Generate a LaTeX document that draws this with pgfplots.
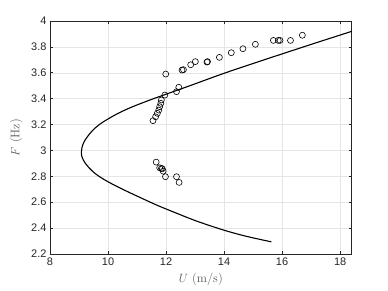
\documentclass[border=0pt]{standalone}
\usepackage{pgfplots}
\pgfplotsset{compat=1.18}
\usepackage{fontspec}
\newfontfamily\ticksf{Liberation Sans}
\definecolor{axgray}{gray}{0.15}
\definecolor{labgray}{gray}{0.35}
\begin{document}
\begin{tikzpicture}[x=1bp,y=1bp]
\begin{axis}[
  scale only axis,
  width=301.7bp, height=233bp,
  xmin=8, xmax=18.4, ymin=2.2, ymax=4,
  xtick={8,10,...,18},
  ytick={2.2,2.4,...,4.01},
  grid=major,
  major grid style={gray!20, line width=0.5bp},
  axis line style={axgray, line width=0.6bp},
  tick style={axgray, line width=0.6bp},
  major tick length=3bp,
  tick align=inside,
  xtick pos=both, ytick pos=both,
  ticklabel style={font=\ticksf\fontsize{11}{13}\selectfont, text=axgray},
  /pgf/number format/assume math mode=true,
  yticklabel style={/pgf/number format/fixed, /pgf/number format/precision=1},
  xlabel={$U$ (m/s)},
  ylabel={$F$ (Hz)},
  label style={font=\fontsize{12.5}{14}\selectfont, text=labgray},
  xlabel style={yshift=-1bp},
  ylabel style={yshift=2bp},
  clip=true,
]
\addplot[black, line width=1.1bp, smooth, tension=0.6] coordinates {
(15.63,2.294) (14.80,2.335) (14.10,2.377) (13.50,2.420) (12.96,2.462)
(12.32,2.519) (11.76,2.570) (11.46,2.600) (11.17,2.630) (10.88,2.660)
(10.56,2.694) (10.28,2.725) (10.00,2.758) (9.76,2.790) (9.55,2.823)
(9.35,2.865) (9.22,2.900) (9.11,2.945) (9.08,2.985) (9.10,3.020)
(9.16,3.060) (9.27,3.100) (9.45,3.150) (9.70,3.200) (10.00,3.243)
(10.38,3.290) (10.85,3.338) (11.45,3.390) (11.92,3.428) (12.82,3.500)
(13.95,3.592) (14.95,3.668) (15.95,3.742) (17.15,3.830) (18.40,3.920)
};
\addplot[only marks, mark=o, mark size=3bp, mark options={line width=0.6bp, black}] coordinates {
(11.55,3.230) (11.64,3.260) (11.70,3.287) (11.75,3.312) (11.78,3.338)
(11.82,3.364) (11.84,3.390) (11.96,3.428) (12.36,3.454) (12.44,3.488)
(11.99,3.590) (12.55,3.621) (12.60,3.624) (12.85,3.662) (13.01,3.686)
(13.41,3.683) (13.43,3.686) (13.84,3.719) (14.25,3.755) (14.65,3.786)
(15.08,3.820) (15.70,3.850) (15.87,3.850) (15.93,3.850) (16.29,3.850)
(16.70,3.890)
(11.66,2.910) (11.78,2.866) (11.84,2.862) (11.87,2.858) (11.90,2.840)
(11.98,2.797) (12.36,2.797) (12.45,2.753)
};
\end{axis}
\pgfresetboundingbox
\path (current axis.south west) +(-50bp,-37bp) (current axis.north east) +(36.3bp,21bp);
\end{tikzpicture}
\end{document}
